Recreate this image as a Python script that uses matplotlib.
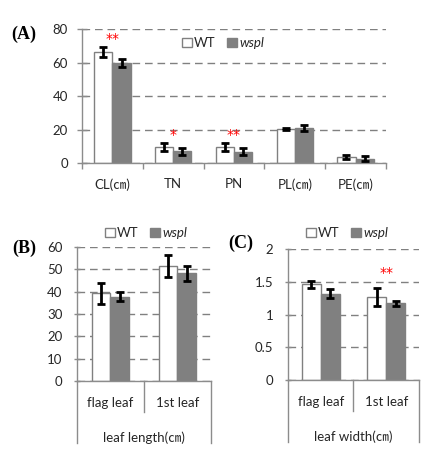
import matplotlib
matplotlib.use('Agg')
import matplotlib.pyplot as plt
from matplotlib.patches import Patch
import numpy as np

# ---------------- data ----------------
a_categories = ['CL(㎝)', 'TN', 'PN', 'PL(㎝)', 'PE(㎝)']
a_wt = [66.5, 9.7, 9.7, 20.5, 3.5]
a_wt_err = [3.0, 2.4, 2.4, 0.5, 1.3]
a_wspl = [59.7, 7.0, 6.8, 21.0, 2.6]
a_wspl_err = [2.3, 2.2, 2.0, 1.7, 1.6]
a_stars = ['**', '*', '**', '', '']
a_star_y = [74, 16.5, 16.5, 0, 0]
a_yticks = [0, 20, 40, 60, 80]

b_categories = ['flag leaf', '1st leaf']
b_group = 'leaf length(㎝)'
b_wt = [39.2, 51.5]
b_wt_err = [4.6, 5.1]
b_wspl = [37.8, 48.2]
b_wspl_err = [2.0, 3.2]
b_yticks = [0, 10, 20, 30, 40, 50, 60]

c_categories = ['flag leaf', '1st leaf']
c_group = 'leaf width(㎝)'
c_wt = [1.46, 1.27]
c_wt_err = [0.055, 0.14]
c_wspl = [1.32, 1.17]
c_wspl_err = [0.07, 0.04]
c_stars = ['', '**']
c_star_y = [0, 1.63]
c_yticks = [0, 0.5, 1, 1.5, 2]
c_yticklabels = ['0', '0.5', '1', '1.5', '2']

series_names = ['WT', 'wspl']

# ---------------- style ----------------
W, H = 439, 466
DPI = 100
GRAY = '#808080'
AXC = '#8c8c8c'
TXT = '#262626'
FONT = ['Lato', 'Noto Sans CJK SC', 'DejaVu Sans']
LBLFONT = ['Liberation Serif', 'DejaVu Serif']

fig = plt.figure(figsize=(W / DPI, H / DPI), dpi=DPI)


def px_axes(x0, x1, ytop, ybot):
    return fig.add_axes([x0 / W, 1 - ybot / H, (x1 - x0) / W, (ybot - ytop) / H])


def style_axes(ax, yticks, ylabels, ylim, ticklen, tickpad):
    ax.set_ylim(*ylim)
    ax.set_yticks(yticks)
    ax.set_yticklabels(ylabels, family=FONT, fontsize=9.5, color=TXT)
    for s in ['top', 'right']:
        ax.spines[s].set_visible(False)
    for s in ['left', 'bottom']:
        ax.spines[s].set_color(AXC)
        ax.spines[s].set_linewidth(1.0)
    ax.tick_params(axis='y', direction='inout', length=ticklen, width=1.0, color=AXC, pad=tickpad)
    ax.yaxis.grid(True, linestyle=(0, (5.5, 3.5)), color=GRAY, linewidth=1.0)
    ax.set_axisbelow(True)


def draw_bars(ax, wt, wt_err, wspl, wspl_err, width):
    x = np.arange(len(wt))
    ax.bar(x - width / 2, wt, width, color='white', edgecolor=GRAY, linewidth=1.0, zorder=2)
    ax.bar(x + width / 2, wspl, width, color=GRAY, edgecolor=GRAY, linewidth=1.0, zorder=2)
    ekw = dict(fmt='none', ecolor='black', elinewidth=2.0, capsize=3.2, capthick=2.0, zorder=3)
    ax.errorbar(x - width / 2, wt, yerr=wt_err, **ekw)
    ax.errorbar(x + width / 2, wspl, yerr=wspl_err, **ekw)
    ax.set_xlim(-0.5, len(wt) - 0.5)


def add_legend(cx, cy):
    handles = [Patch(facecolor='white', edgecolor=GRAY, linewidth=1.0),
               Patch(facecolor=GRAY, edgecolor=GRAY, linewidth=1.0)]
    leg = fig.legend(handles, series_names, loc='center', bbox_to_anchor=(cx / W, 1 - cy / H),
                     ncol=2, frameon=False, handlelength=0.75, handleheight=0.75,
                     handletextpad=0.15, columnspacing=0.9, borderpad=0,
                     prop={'family': FONT, 'size': 9.5})
    for t in leg.get_texts():
        t.set_color(TXT)
    leg.get_texts()[1].set_fontstyle('italic')
    return leg


# ---------------- panel A ----------------
axA = px_axes(82, 386, 29, 163)
draw_bars(axA, a_wt, a_wt_err, a_wspl, a_wspl_err, 0.3)
style_axes(axA, a_yticks, [str(v) for v in a_yticks], (0, 80), 7.2, 6.5)
axA.set_xticks(range(len(a_categories)))
axA.set_xticklabels(a_categories, family=FONT, fontsize=9.5, color=TXT)
axA.set_xticks(np.arange(-0.5, len(a_categories)), minor=True)
axA.tick_params(axis='x', which='major', length=0, pad=11)
axA.tick_params(axis='x', which='minor', length=4, width=1.0, color=AXC)
for i, s in enumerate(a_stars):
    if s:
        axA.text(i, a_star_y[i], s, color='#ff0000', ha='center', va='center',
                 fontsize=10, family=['DejaVu Sans'])
add_legend(223, 43)
fig.text(24 / W, 1 - 34 / H, '(A)', family=LBLFONT, fontweight='bold', fontsize=13,
         ha='center', va='center', color='black')


def multilevel(ax, cats, group):
    ax.set_xticks([])
    hpx = ax.bbox.height
    n = len(cats)
    trans = ax.get_xaxis_transform()
    for b in np.arange(-0.5, n):
        if b == -0.5 or b == n - 0.5:
            yb = -62 / hpx
        else:
            yb = -31 / hpx
        ax.plot([b, b], [0, yb], transform=trans, color=AXC, lw=1.0, clip_on=False)
    for i, c in enumerate(cats):
        ax.text(i, -22 / hpx, c, transform=trans, ha='center', va='center',
                family=FONT, fontsize=9.5, color=TXT)
    ax.text((n - 1) / 2, -57 / hpx, group, transform=trans, ha='center', va='center',
            family=FONT, fontsize=9.5, color=TXT)


# ---------------- panel B ----------------
axB = px_axes(77, 211, 247, 381)
draw_bars(axB, b_wt, b_wt_err, b_wspl, b_wspl_err, 0.28)
style_axes(axB, b_yticks, [str(v) for v in b_yticks], (0, 60), 4.8, 8)
multilevel(axB, b_categories, b_group)
add_legend(146, 233)
fig.text(24 / W, 1 - 248 / H, '(B)', family=LBLFONT, fontweight='bold', fontsize=13,
         ha='center', va='center', color='black')

# ---------------- panel C ----------------
axC = px_axes(288, 419, 249, 380)
draw_bars(axC, c_wt, c_wt_err, c_wspl, c_wspl_err, 0.29)
style_axes(axC, c_yticks, c_yticklabels, (0, 2), 4.8, 8)
multilevel(axC, c_categories, c_group)
for i, s in enumerate(c_stars):
    if s:
        axC.text(i, c_star_y[i], s, color='#ff0000', ha='center', va='center',
                 fontsize=10, family=['DejaVu Sans'])
add_legend(347, 233)
fig.text(241 / W, 1 - 243.5 / H, '(C)', family=LBLFONT, fontweight='bold', fontsize=13,
         ha='center', va='center', color='black')

fig.savefig('out.png', dpi=DPI)
